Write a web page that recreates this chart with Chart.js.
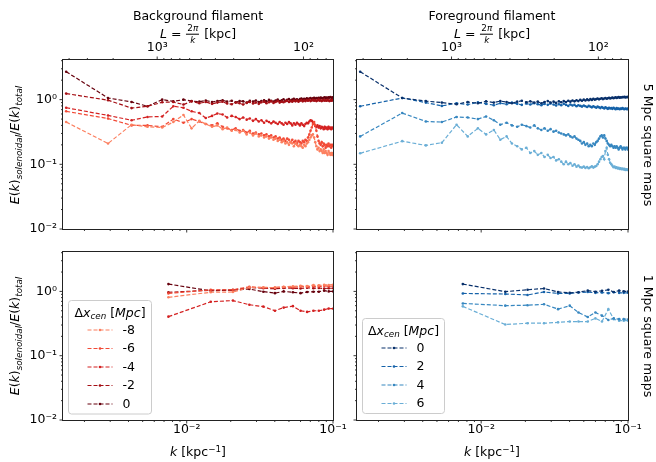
<!DOCTYPE html>
<html>
<head>
<meta charset="utf-8">
<script src="https://cdn.jsdelivr.net/npm/chart.js@4.4.1/dist/chart.umd.min.js"></script>
<style>
  body { margin: 0; background: #fff; }
  #fig { position: relative; width: 656px; height: 462px; overflow: hidden;
         font-family: "DejaVu Sans", sans-serif; font-size: 12.5px; color: #000; background: #fff; }
  canvas { position: absolute; }
  .lbl { position: absolute; white-space: nowrap; line-height: 1; transform: translate(-50%, -50%); }
  .rotl { transform: translate(-50%, -50%) rotate(-90deg); }
  .rotr { transform: translate(-50%, -50%) rotate(90deg); }
  .sb { font-size: 70%; position: relative; top: 0.3em; font-style: italic; }
  .sp { font-size: 70%; position: relative; top: -0.45em; }
  .frac { display: inline-block; vertical-align: middle; text-align: center; font-size: 8.8px; line-height: 1; margin: 0 1px; }
  .frac span { display: block; }
  .frac .num { border-bottom: 0.8px solid #000; padding: 0 1px 1px; }
  .frac .den { padding-top: 1px; }
</style>
</head>
<body>
<div id="fig">
  <canvas id="cTL" width="350" height="240" style="left:0;top:0"></canvas>
  <canvas id="cTR" width="316" height="240" style="left:340px;top:0"></canvas>
  <canvas id="cBL" width="350" height="222" style="left:0;top:240px"></canvas>
  <canvas id="cBR" width="316" height="222" style="left:340px;top:240px"></canvas>

  <div class="lbl" style="left:198px;top:16px">Background filament</div>
  <div class="lbl" style="left:492px;top:16px">Foreground filament</div>
  <div class="lbl" style="left:198px;top:34px"><i>L</i> = <span class="frac"><span class="num">2<i>π</i></span><span class="den"><i>k</i></span></span> [kpc]</div>
  <div class="lbl" style="left:492px;top:34px"><i>L</i> = <span class="frac"><span class="num">2<i>π</i></span><span class="den"><i>k</i></span></span> [kpc]</div>

  <div class="lbl rotl" style="left:15px;top:145px"><i>E</i>(<i>k</i>)<span class="sb">solenoidal</span>/<i>E</i>(<i>k</i>)<span class="sb">total</span></div>
  <div class="lbl rotl" style="left:15px;top:336px"><i>E</i>(<i>k</i>)<span class="sb">solenoidal</span>/<i>E</i>(<i>k</i>)<span class="sb">total</span></div>

  <div class="lbl rotr" style="left:648px;top:145px">5 Mpc square maps</div>
  <div class="lbl rotr" style="left:648px;top:336px">1 Mpc square maps</div>

  <div class="lbl" style="left:198px;top:452px"><i>k</i> [kpc<span class="sp">−1</span>]</div>
  <div class="lbl" style="left:492px;top:452px"><i>k</i> [kpc<span class="sp">−1</span>]</div>
</div>

<script>
// wavenumbers of the 5 Mpc maps and of the 1 Mpc maps (kpc^-1)
const kMap5 = [
  0.0015, 0.0029, 0.0042, 0.0054, 0.0068, 0.0081, 0.0095, 0.0108, 0.0122, 0.0135,
  0.0149, 0.0162, 0.0176, 0.0189, 0.0203, 0.0216, 0.0230, 0.0243, 0.0257, 0.0270,
  0.0284, 0.0297, 0.0311, 0.0324, 0.0338, 0.0351, 0.0365, 0.0378, 0.0392, 0.0405,
  0.0419, 0.0432, 0.0446, 0.0459, 0.0473, 0.0486, 0.0500, 0.0513, 0.0527, 0.0540,
  0.0554, 0.0567, 0.0581, 0.0594, 0.0608, 0.0621, 0.0635, 0.0648, 0.0662, 0.0675,
  0.0689, 0.0702, 0.0716, 0.0729, 0.0743, 0.0756, 0.0770, 0.0783, 0.0797, 0.0810,
  0.0824, 0.0837, 0.0851, 0.0864, 0.0878, 0.0891, 0.0905, 0.0918, 0.0932, 0.0945,
  0.0959, 0.0972, 0.0986, 0.0999, 0.1013
];
const kMap1 = [0.0075, 0.0146, 0.0207, 0.0268, 0.0334, 0.0401, 0.0460, 0.0532,
               0.0600, 0.0665, 0.0735, 0.0800, 0.0870, 0.0935, 0.1005];

// background filament, 5 Mpc maps
const bg5_m8 = [
  0.45, 0.21, 0.41, 0.38, 0.37, 0.45, 0.58, 0.36, 0.47, 0.42,
  0.38, 0.40, 0.35, 0.37, 0.33, 0.34, 0.31, 0.33, 0.29, 0.31,
  0.28, 0.30, 0.27, 0.28, 0.26, 0.27, 0.25, 0.26, 0.24, 0.25,
  0.23, 0.24, 0.22, 0.23, 0.21, 0.22, 0.20, 0.22, 0.21, 0.19,
  0.21, 0.20, 0.19, 0.20, 0.19, 0.18, 0.20, 0.19, 0.21, 0.22,
  0.24, 0.26, 0.28, 0.29, 0.26, 0.22, 0.19, 0.17, 0.18, 0.16,
  0.17, 0.16, 0.15, 0.17, 0.15, 0.16, 0.15, 0.14, 0.16, 0.15,
  0.14, 0.15, 0.14, 0.15, 0.14
];
const bg5_m6 = [
  0.66, 0.51, 0.40, 0.40, 0.38, 0.50, 0.44, 0.50, 0.46, 0.42,
  0.40, 0.43, 0.38, 0.36, 0.34, 0.36, 0.33, 0.34, 0.31, 0.33,
  0.30, 0.31, 0.29, 0.30, 0.28, 0.29, 0.27, 0.28, 0.26, 0.27,
  0.25, 0.26, 0.24, 0.25, 0.23, 0.25, 0.24, 0.22, 0.24, 0.22,
  0.23, 0.21, 0.23, 0.22, 0.21, 0.23, 0.22, 0.24, 0.23, 0.26,
  0.29, 0.33, 0.37, 0.42, 0.45, 0.40, 0.33, 0.27, 0.23, 0.21,
  0.20, 0.22, 0.19, 0.21, 0.20, 0.18, 0.20, 0.19, 0.21, 0.19,
  0.20, 0.18, 0.20, 0.19, 0.20
];
const bg5_m4 = [
  0.75, 0.57, 0.48, 0.54, 0.55, 0.79, 0.75, 0.66, 0.62, 0.52,
  0.56, 0.61, 0.59, 0.53, 0.56, 0.54, 0.50, 0.53, 0.49, 0.51,
  0.47, 0.50, 0.46, 0.48, 0.44, 0.47, 0.45, 0.43, 0.46, 0.44,
  0.42, 0.45, 0.43, 0.41, 0.44, 0.42, 0.45, 0.43, 0.40, 0.43,
  0.41, 0.44, 0.42, 0.40, 0.43, 0.41, 0.39, 0.42, 0.44, 0.43,
  0.46, 0.48, 0.47, 0.45, 0.42, 0.39, 0.38, 0.40, 0.37, 0.39,
  0.36, 0.38, 0.37, 0.35, 0.38, 0.36, 0.37, 0.35, 0.38, 0.36,
  0.37, 0.35, 0.37, 0.36, 0.37
];
const bg5_m2 = [
  1.24, 0.98, 0.74, 0.79, 0.91, 0.92, 0.84, 0.94, 0.88, 0.92,
  0.86, 0.90, 0.93, 0.87, 0.85, 0.90, 0.88, 0.84, 0.89, 0.92,
  0.87, 0.90, 0.86, 0.91, 0.93, 0.88, 0.91, 0.94, 0.89, 0.92,
  0.95, 0.90, 0.93, 0.91, 0.94, 0.96, 0.92, 0.95, 0.93, 0.96,
  0.94, 0.97, 0.93, 0.96, 0.98, 0.94, 0.97, 0.95, 0.98, 0.96,
  0.99, 0.95, 0.97, 0.99, 0.96, 0.98, 0.95, 0.97, 1.00, 0.96,
  0.98, 0.95, 0.97, 0.99, 0.96, 0.98, 0.96, 0.99, 0.97, 0.95,
  0.98, 0.96, 0.99, 0.97, 0.98
];
const bg5_0 = [
  2.70, 1.06, 0.92, 0.79, 1.00, 0.94, 1.00, 0.95, 0.93, 0.97,
  0.92, 0.95, 0.98, 0.93, 0.96, 0.91, 0.95, 0.94, 0.90, 0.96,
  0.93, 0.97, 0.92, 0.95, 0.98, 0.94, 0.99, 0.96, 0.93, 0.97,
  1.00, 0.95, 0.98, 1.01, 0.96, 0.99, 1.02, 0.97, 1.00, 1.03,
  0.99, 1.01, 0.98, 1.02, 1.04, 1.00, 1.03, 1.01, 1.05, 1.02,
  1.04, 1.06, 1.02, 1.05, 1.07, 1.03, 1.06, 1.04, 1.07, 1.05,
  1.08, 1.06, 1.04, 1.07, 1.09, 1.06, 1.08, 1.05, 1.09, 1.07,
  1.10, 1.08, 1.06, 1.09, 1.08
];

// foreground filament, 5 Mpc maps
const fg5_0 = [
  2.70, 1.06, 0.95, 0.90, 0.85, 0.92, 0.88, 0.94, 0.90, 0.95,
  0.92, 0.88, 0.93, 0.96, 0.91, 0.94, 0.90, 0.93, 0.88, 0.92,
  0.95, 0.90, 0.93, 0.89, 0.94, 0.91, 0.95, 0.92, 0.96, 0.93,
  0.97, 0.94, 0.98, 0.95, 0.99, 0.96, 1.00, 0.97, 1.01, 0.98,
  1.02, 0.99, 1.03, 1.00, 1.02, 1.04, 1.01, 1.03, 1.05, 1.02,
  1.04, 1.06, 1.03, 1.05, 1.07, 1.04, 1.06, 1.08, 1.05, 1.07,
  1.09, 1.06, 1.08, 1.10, 1.07, 1.09, 1.08, 1.10, 1.09, 1.11,
  1.08, 1.10, 1.09, 1.11, 1.10
];
const fg5_2 = [
  0.79, 1.06, 0.90, 0.80, 0.88, 0.84, 0.91, 0.86, 0.82, 0.88,
  0.85, 0.90, 0.86, 0.83, 0.87, 0.84, 0.88, 0.85, 0.82, 0.86,
  0.83, 0.87, 0.84, 0.81, 0.85, 0.82, 0.86, 0.83, 0.80, 0.84,
  0.81, 0.83, 0.79, 0.82, 0.80, 0.78, 0.81, 0.79, 0.77, 0.80,
  0.78, 0.76, 0.79, 0.77, 0.75, 0.78, 0.76, 0.74, 0.77, 0.75,
  0.73, 0.76, 0.74, 0.72, 0.75, 0.73, 0.74, 0.72, 0.75, 0.73,
  0.71, 0.74, 0.72, 0.73, 0.71, 0.73, 0.72, 0.74, 0.72, 0.71,
  0.73, 0.72, 0.71, 0.73, 0.72
];
const fg5_4 = [
  0.27, 0.62, 0.46, 0.45, 0.54, 0.53, 0.50, 0.55, 0.48, 0.41,
  0.44, 0.40, 0.38, 0.41, 0.39, 0.37, 0.40, 0.36, 0.34, 0.36,
  0.33, 0.35, 0.32, 0.33, 0.31, 0.30, 0.29, 0.28, 0.29, 0.27,
  0.26, 0.27, 0.25, 0.24, 0.23, 0.21, 0.22, 0.20, 0.21, 0.19,
  0.20, 0.19, 0.21, 0.20, 0.22, 0.23, 0.25, 0.27, 0.28, 0.26,
  0.28, 0.25, 0.23, 0.21, 0.20, 0.19, 0.20, 0.19, 0.18, 0.19,
  0.18, 0.19, 0.18, 0.17, 0.18, 0.19, 0.18, 0.17, 0.18, 0.18,
  0.17, 0.18, 0.18, 0.17, 0.18
];
const fg5_6 = [
  0.148, 0.228, 0.196, 0.216, 0.41, 0.27, 0.36, 0.29, 0.34, 0.24,
  0.27, 0.21, 0.19, 0.17, 0.18, 0.15, 0.16, 0.14, 0.15, 0.13,
  0.14, 0.125, 0.13, 0.115, 0.12, 0.11, 0.10, 0.11, 0.10, 0.105,
  0.095, 0.10, 0.092, 0.096, 0.09, 0.089, 0.092, 0.088, 0.091, 0.087,
  0.09, 0.093, 0.089, 0.092, 0.094, 0.10, 0.11, 0.12, 0.13, 0.134,
  0.12, 0.16, 0.18, 0.14, 0.12, 0.106, 0.10, 0.095, 0.09, 0.092,
  0.088, 0.09, 0.086, 0.088, 0.085, 0.087, 0.084, 0.086, 0.083, 0.085,
  0.082, 0.084, 0.082, 0.083, 0.082
];

// 1 Mpc maps
const bg1_m8 = [0.81, 0.97, 0.98, 1.15, 1.16, 1.14, 1.18, 1.20, 1.22, 1.21, 1.25, 1.24, 1.27, 1.26, 1.28];
const bg1_m6 = [0.93, 1.06, 1.06, 1.18, 1.14, 1.15, 1.17, 1.16, 1.19, 1.18, 1.20, 1.19, 1.22, 1.20, 1.21];
const bg1_m4 = [0.405, 0.69, 0.72, 0.62, 0.58, 0.50, 0.56, 0.59, 0.50, 0.48, 0.50, 0.50, 0.52, 0.54, 0.54];
const bg1_m2 = [0.97, 1.04, 1.05, 1.15, 1.12, 1.10, 1.13, 1.12, 1.11, 1.14, 1.12, 1.13, 1.11, 1.12, 1.12];
const bg1_0  = [1.30, 1.02, 1.05, 1.09, 0.99, 0.94, 1.00, 0.97, 0.94, 0.98, 0.99, 0.99, 1.03, 1.00, 1.00];

const fg1_0 = [1.30, 0.99, 1.06, 1.11, 0.98, 0.95, 0.97, 1.03, 0.99, 1.02, 1.06, 0.98, 1.03, 1.00, 1.00];
const fg1_2 = [0.93, 0.91, 0.88, 0.98, 0.93, 0.93, 0.96, 0.98, 0.95, 0.96, 0.94, 0.97, 0.95, 0.95, 0.95];
const fg1_4 = [0.65, 0.60, 0.61, 0.63, 0.53, 0.60, 0.47, 0.40, 0.47, 0.42, 0.36, 0.38, 0.37, 0.37, 0.37];
const fg1_6 = [0.585, 0.305, 0.32, 0.32, 0.33, 0.34, 0.34, 0.34, 0.38, 0.34, 0.53, 0.37, 0.35, 0.35, 0.35];

const bgLabels = ['-8', '-6', '-4', '-2', '0'];
const fgLabels = ['0', '2', '4', '6'];

// ticks
const xMajor = [0.01, 0.1];
const xTickLabels = ['10⁻²', '10⁻¹'];
const xMinor = [0.002, 0.003, 0.004, 0.005, 0.006, 0.007, 0.008, 0.009,
                0.02, 0.03, 0.04, 0.05, 0.06, 0.07, 0.08, 0.09];
const yMajor = [0.01, 0.1, 1];
const yTickLabels = ['10⁻²', '10⁻¹', '10⁰'];
const yMinor = [0.02, 0.03, 0.04, 0.05, 0.06, 0.07, 0.08, 0.09,
                0.2, 0.3, 0.4, 0.5, 0.6, 0.7, 0.8, 0.9, 2, 3, 4];
const lMajor = [1000, 100];
const lTickLabels = ['10³', '10²'];
const lMinor = [4000, 3000, 2000, 900, 800, 700, 600, 500, 400, 300, 200, 90, 80, 70];

const redColors = ['#fc7f5f', '#f24a36', '#d42121', '#a50f15', '#67000d'];
const blueColors = ['#08306b', '#1562a9', '#3787c0', '#6aaed6'];

const xMin = 0.001427, xMax = 0.1;
const yMin = 0.01, yMax = 4.1;
const FONT = '12.5px "DejaVu Sans"';

Chart.defaults.font.family = '"DejaVu Sans"';
Chart.defaults.font.size = 12.5;
Chart.defaults.color = '#000';

function zeroPad(s) { s.paddingLeft = 0; s.paddingRight = 0; s.paddingTop = 0; s.paddingBottom = 0; }

function drawRich(ctx, parts, x, y) {
  const fontOf = st => (st.includes('i') ? 'italic ' : '') + (st.includes('s') ? 8.75 : 12.5) + 'px "DejaVu Sans"';
  let total = 0;
  parts.forEach(([t, st]) => { ctx.font = fontOf(st); total += ctx.measureText(t).width; });
  let cx = x - total / 2;
  ctx.textAlign = 'left'; ctx.textBaseline = 'alphabetic'; ctx.fillStyle = '#000';
  parts.forEach(([t, st]) => {
    ctx.font = fontOf(st);
    ctx.fillText(t, cx, y + (st.includes('s') ? 2.5 : 0));
    cx += ctx.measureText(t).width;
  });
}

const frameTicks = {
  id: 'frameTicks',
  afterDatasetsDraw(chart, args, opts) {
    const { ctx, chartArea: ca, scales } = chart;
    ctx.save();
    ctx.strokeStyle = '#222';
    ctx.lineWidth = 0.9;
    const tick = (x1, y1, x2, y2) => { ctx.beginPath(); ctx.moveTo(x1, y1); ctx.lineTo(x2, y2); ctx.stroke(); };
    xMajor.forEach(v => { const p = scales.x.getPixelForValue(v); tick(p, ca.bottom, p, ca.bottom + 3.5); });
    xMinor.forEach(v => { const p = scales.x.getPixelForValue(v); tick(p, ca.bottom, p, ca.bottom + 2); });
    yMajor.forEach(v => { const p = scales.y.getPixelForValue(v); tick(ca.left, p, ca.left - 3.5, p); });
    yMinor.forEach(v => { const p = scales.y.getPixelForValue(v); tick(ca.left, p, ca.left - 2, p); });
    if (opts.top) {
      lMajor.forEach(L => { const p = scales.x.getPixelForValue(2 * Math.PI / L); tick(p, ca.top, p, ca.top - 3.5); });
      lMinor.forEach(L => { const p = scales.x.getPixelForValue(2 * Math.PI / L); tick(p, ca.top, p, ca.top - 2); });
    }
    ctx.lineWidth = 1;
    ctx.strokeRect(ca.left - 0.5, ca.top - 0.5, ca.right - ca.left + 1, ca.bottom - ca.top + 1);
    ctx.restore();
  }
};

const panelLegend = {
  id: 'panelLegend',
  afterDraw(chart, args, opts) {
    if (!opts.show) return;
    const { ctx, chartArea: ca } = chart;
    const sets = chart.data.datasets;
    const w = opts.width, h = 29.5 + (sets.length - 1) * 18.5 + 10;
    const x0 = Math.round(ca.left + 5) + 0.5, y0 = Math.round(ca.bottom - 7 - h) + 0.5;
    ctx.save();
    ctx.beginPath();
    ctx.roundRect(x0, y0, w, h, 3);
    ctx.fillStyle = 'rgba(255,255,255,0.8)';
    ctx.fill();
    ctx.strokeStyle = '#cccccc';
    ctx.lineWidth = 1;
    ctx.stroke();
    drawRich(ctx, [['Δ', 'n'], ['x', 'i'], ['cen', 'si'], [' [', 'n'], ['Mpc', 'i'], [']', 'n']], x0 + w / 2, y0 + 16);
    sets.forEach((ds, i) => {
      const yy = y0 + 29.5 + i * 18.5;
      ctx.strokeStyle = ds.borderColor;
      ctx.lineWidth = 1.2;
      ctx.setLineDash([4, 2]);
      ctx.beginPath(); ctx.moveTo(x0 + 19, yy); ctx.lineTo(x0 + 44, yy); ctx.stroke();
      ctx.setLineDash([]);
      ctx.fillStyle = ds.borderColor;
      ctx.beginPath(); ctx.arc(x0 + 31.5, yy, 1.3, 0, 2 * Math.PI); ctx.fill();
      ctx.fillStyle = '#000';
      ctx.font = FONT;
      ctx.textAlign = 'left';
      ctx.textBaseline = 'middle';
      ctx.fillText(ds.label, x0 + 54, yy + 0.5);
    });
    ctx.restore();
  }
};

function series(xs, ys, label, color) {
  return {
    label: label,
    data: xs.map((x, i) => ({ x: x, y: ys[i] })),
    borderColor: color,
    backgroundColor: color,
    pointBackgroundColor: color,
    borderWidth: 1.2,
    borderDash: [4, 2],
    pointRadius: 1.3,
    pointBorderWidth: 0,
    pointHoverRadius: 0,
    fill: false,
    tension: 0
  };
}

function makePanel(id, datasets, o) {
  const scales = {
    x: {
      type: 'logarithmic', position: 'bottom', min: xMin, max: xMax,
      afterBuildTicks: s => { s.ticks = xMajor.map(v => ({ value: v })); },
      ticks: { display: o.xLabels, autoSkip: false, maxRotation: 0, padding: 2,
               callback: (v, i) => xTickLabels[i] },
      grid: { display: false, drawTicks: false },
      border: { display: false },
      afterFit: s => { s.height = o.xH; zeroPad(s); }
    },
    y: {
      type: 'logarithmic', position: 'left', min: yMin, max: yMax,
      afterBuildTicks: s => { s.ticks = yMajor.map(v => ({ value: v })); },
      ticks: { display: o.yLabels, autoSkip: false, padding: 6,
               callback: (v, i) => yTickLabels[i] },
      grid: { display: false, drawTicks: false },
      border: { display: false },
      afterFit: s => { s.width = o.yW; zeroPad(s); }
    }
  };
  if (o.top) {
    scales.xTop = {
      type: 'logarithmic', position: 'top', min: xMin, max: xMax,
      afterBuildTicks: s => { s.ticks = lMajor.map(L => ({ value: 2 * Math.PI / L })); },
      ticks: { autoSkip: false, maxRotation: 0, padding: 5,
               callback: (v, i) => lTickLabels[i] },
      grid: { display: false, drawTicks: false },
      border: { display: false },
      afterFit: s => { s.height = 60; zeroPad(s); }
    };
  }
  return new Chart(document.getElementById(id), {
    type: 'line',
    data: { datasets: datasets },
    options: {
      responsive: false,
      animation: false,
      devicePixelRatio: 1,
      events: [],
      layout: { padding: { left: 0, right: o.padR, top: o.padT, bottom: 0 } },
      scales: scales,
      plugins: {
        legend: { display: false },
        tooltip: { enabled: false },
        frameTicks: { top: o.top },
        panelLegend: { show: !!o.legendW, width: o.legendW || 0 }
      }
    },
    plugins: [frameTicks, panelLegend]
  });
}

const bg5 = [bg5_m8, bg5_m6, bg5_m4, bg5_m2, bg5_0];
const bg1 = [bg1_m8, bg1_m6, bg1_m4, bg1_m2, bg1_0];
const fg5 = [fg5_0, fg5_2, fg5_4, fg5_6];
const fg1 = [fg1_0, fg1_2, fg1_4, fg1_6];

makePanel('cTL', bg5.map((ys, i) => series(kMap5, ys, bgLabels[i], redColors[i])),
  { top: true, xLabels: false, yLabels: true, xH: 11, yW: 63, padR: 17, padT: 0 });
makePanel('cTR', fg5.map((ys, i) => series(kMap5, ys, fgLabels[i], blueColors[i])),
  { top: true, xLabels: false, yLabels: false, xH: 11, yW: 17, padR: 28, padT: 0 });
makePanel('cBL', bg1.map((ys, i) => series(kMap1, ys, bgLabels[i], redColors[i])),
  { top: false, xLabels: true, yLabels: true, xH: 42, yW: 63, padR: 17, padT: 12, legendW: 83 });
makePanel('cBR', fg1.map((ys, i) => series(kMap1, ys, fgLabels[i], blueColors[i])),
  { top: false, xLabels: true, yLabels: false, xH: 42, yW: 17, padR: 28, padT: 12, legendW: 82 });
</script>
</body>
</html>
